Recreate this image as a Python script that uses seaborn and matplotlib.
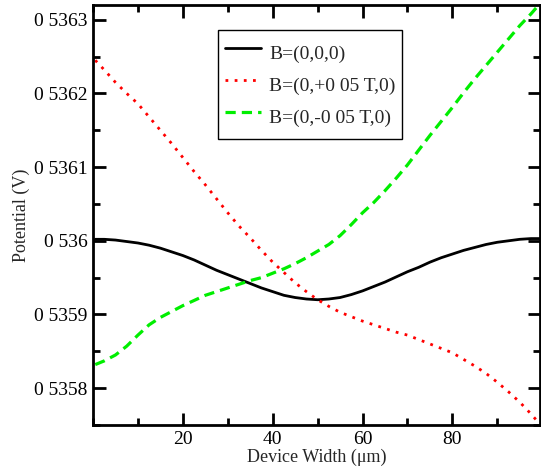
import numpy as np
import pandas as pd
import matplotlib
matplotlib.use("Agg")
import matplotlib.pyplot as plt
from matplotlib.ticker import FixedLocator, MultipleLocator, FixedFormatter
import seaborn as sns

# ---- data ----
width_um = [0.5, 2.5, 5, 7.5, 10, 12.5, 15, 17.5, 20, 22.5, 25, 27.5, 30, 32.5, 35, 37.5,
            40, 42.5, 45, 47.5, 50, 52.5, 55, 57.5, 60, 62.5, 65, 67.5, 70, 72.5, 75, 77.5,
            80, 82.5, 85, 87.5, 90, 92.5, 95, 97.5, 99.5]
v_b0 = [0.536002, 0.536002, 0.536001, 0.535999, 0.535997, 0.535994, 0.535990, 0.535985,
        0.535980, 0.535974, 0.535967, 0.535960, 0.535954, 0.535948, 0.535942, 0.535936,
        0.535931, 0.535926, 0.535923, 0.535921, 0.535920, 0.535921, 0.535923, 0.535927,
        0.535932, 0.535938, 0.535944, 0.535951, 0.535958, 0.535964, 0.535971, 0.535977,
        0.535982, 0.535987, 0.535991, 0.535995, 0.535998, 0.536000, 0.536002, 0.536003,
        0.536003]
v_bplus = [0.536245, 0.536232, 0.536215, 0.536200, 0.536186, 0.536168, 0.536150, 0.536132,
           0.536113, 0.536094, 0.536076, 0.536057, 0.536038, 0.536020, 0.536004, 0.535987,
           0.535971, 0.535957, 0.535943, 0.535931, 0.535920, 0.535911, 0.535903, 0.535897,
           0.535891, 0.535886, 0.535881, 0.535876, 0.535872, 0.535866, 0.535860, 0.535854,
           0.535848, 0.535839, 0.535830, 0.535820, 0.535808, 0.535795, 0.535781, 0.535765,
           0.535751]
v_bminus = [0.535832, 0.535837, 0.535845, 0.535857, 0.535872, 0.535886, 0.535896, 0.535904,
            0.535912, 0.535919, 0.535926, 0.535931, 0.535936, 0.535941, 0.535946, 0.535950,
            0.535956, 0.535962, 0.535969, 0.535977, 0.535986, 0.535995, 0.536007, 0.536022,
            0.536038, 0.536052, 0.536068, 0.536085, 0.536103, 0.536123, 0.536143, 0.536162,
            0.536181, 0.536201, 0.536220, 0.536238, 0.536256, 0.536274, 0.536292, 0.536308,
            0.536322]
series_labels = ["B=(0,0,0)", "B=(0,+0 05 T,0)", "B=(0,-0 05 T,0)"]
xtick_values = [20, 40, 60, 80]
ytick_values = [0.5358, 0.5359, 0.5360, 0.5361, 0.5362, 0.5363]
ytick_labels = ["0 5358", "0 5359", "0 536", "0 5361", "0 5362", "0 5363"]

sns.set_style("ticks")
plt.rcParams["font.family"] = ["Liberation Serif", "DejaVu Serif"]

fig = plt.figure(figsize=(5.41, 4.73), dpi=100)
ax = fig.add_axes([93 / 541, 48 / 473, (540 - 93) / 541, (468 - 48) / 473])

df = pd.DataFrame({"x": width_um, "b0": v_b0, "bp": v_bplus, "bm": v_bminus})

sns.lineplot(data=df, x="x", y="b0", ax=ax, color="black", lw=2.0, label=series_labels[0])
sns.lineplot(data=df, x="x", y="bp", ax=ax, color="#ff0000", lw=2.0, label=series_labels[1])
ax.lines[-1].set_dashes((1, 2.3))
sns.lineplot(data=df, x="x", y="bm", ax=ax, color="#00ee00", lw=2.3, label=series_labels[2])
ax.lines[-1].set_dashes((3.2, 1.9))

ax.set_xlim(0, 99.5)
ax.set_ylim(0.53575, 0.53632)

ax.xaxis.set_major_locator(FixedLocator(xtick_values))
ax.xaxis.set_minor_locator(MultipleLocator(10))
ax.yaxis.set_major_locator(FixedLocator(ytick_values))
ax.yaxis.set_major_formatter(FixedFormatter(ytick_labels))
ax.yaxis.set_minor_locator(MultipleLocator(0.00005))

ax.tick_params(which="both", direction="in", top=True, right=True, width=2, colors="black",
               labelsize=14)
ax.tick_params(which="major", length=9, pad=4)
ax.tick_params(which="minor", length=5)
for s in ax.spines.values():
    s.set_linewidth(2)
    s.set_color("black")

ax.set_xlabel("Device Width (\u03bcm)", fontsize=13, labelpad=1)
ax.set_ylabel("Potential (V)", fontsize=13, labelpad=3)

leg = ax.legend(loc="upper left", bbox_to_anchor=(0.2796, 0.9405), borderaxespad=0,
                fontsize=14, frameon=True, fancybox=False, framealpha=1, edgecolor="black",
                handlelength=1.85, handleheight=2.1, borderpad=0.35, labelspacing=0.05,
                handletextpad=0.42)
leg.get_frame().set_linewidth(1.0)

fig.savefig("out.png", dpi=100)
